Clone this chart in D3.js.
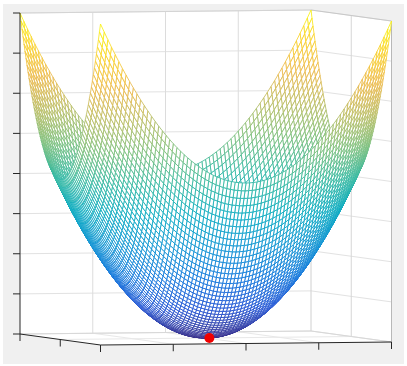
<!DOCTYPE html>
<html><head><meta charset="utf-8">
<script src="https://cdn.jsdelivr.net/npm/d3@7"></script>
<style>html,body{margin:0;padding:0;background:#fff}svg{display:block}</style>
</head><body>
<svg id="c" width="407" height="366"></svg>
<script>
const xGrid = [-2,-1.95,-1.9,-1.85,-1.8,-1.75,-1.7,-1.65,-1.6,-1.55,-1.5,-1.45,-1.4,-1.35,-1.3,-1.25,-1.2,-1.15,-1.1,-1.05,-1,-0.95,-0.9,-0.85,-0.8,-0.75,-0.7,-0.65,-0.6,-0.55,-0.5,-0.45,-0.4,-0.35,-0.3,-0.25,-0.2,-0.15,-0.1,-0.05,0,0.05,0.1,0.15,0.2,0.25,0.3,0.35,0.4,0.45,0.5,0.55,0.6,0.65,0.7,0.75,0.8,0.85,0.9,0.95,1,1.05,1.1,1.15,1.2,1.25,1.3,1.35,1.4,1.45,1.5,1.55,1.6,1.65,1.7,1.75,1.8,1.85,1.9,1.95,2];
const yGrid = [-2,-1.95,-1.9,-1.85,-1.8,-1.75,-1.7,-1.65,-1.6,-1.55,-1.5,-1.45,-1.4,-1.35,-1.3,-1.25,-1.2,-1.15,-1.1,-1.05,-1,-0.95,-0.9,-0.85,-0.8,-0.75,-0.7,-0.65,-0.6,-0.55,-0.5,-0.45,-0.4,-0.35,-0.3,-0.25,-0.2,-0.15,-0.1,-0.05,0,0.05,0.1,0.15,0.2,0.25,0.3,0.35,0.4,0.45,0.5,0.55,0.6,0.65,0.7,0.75,0.8,0.85,0.9,0.95,1,1.05,1.1,1.15,1.2,1.25,1.3,1.35,1.4,1.45,1.5,1.55,1.6,1.65,1.7,1.75,1.8,1.85,1.9,1.95,2];
const heightAlongX = [4,3.8025,3.61,3.4225,3.24,3.0625,2.89,2.7225,2.56,2.4025,2.25,2.1025,1.96,1.8225,1.69,1.5625,1.44,1.3225,1.21,1.1025,1,0.9025,0.81,0.7225,0.64,0.5625,0.49,0.4225,0.36,0.3025,0.25,0.2025,0.16,0.1225,0.09,0.0625,0.04,0.0225,0.01,0.0025,0,0.0025,0.01,0.0225,0.04,0.0625,0.09,0.1225,0.16,0.2025,0.25,0.3025,0.36,0.4225,0.49,0.5625,0.64,0.7225,0.81,0.9025,1,1.1025,1.21,1.3225,1.44,1.5625,1.69,1.8225,1.96,2.1025,2.25,2.4025,2.56,2.7225,2.89,3.0625,3.24,3.4225,3.61,3.8025,4];
const heightAlongY = [4,3.8025,3.61,3.4225,3.24,3.0625,2.89,2.7225,2.56,2.4025,2.25,2.1025,1.96,1.8225,1.69,1.5625,1.44,1.3225,1.21,1.1025,1,0.9025,0.81,0.7225,0.64,0.5625,0.49,0.4225,0.36,0.3025,0.25,0.2025,0.16,0.1225,0.09,0.0625,0.04,0.0225,0.01,0.0025,0,0.0025,0.01,0.0225,0.04,0.0625,0.09,0.1225,0.16,0.2025,0.25,0.3025,0.36,0.4225,0.49,0.5625,0.64,0.7225,0.81,0.9025,1,1.1025,1.21,1.3225,1.44,1.5625,1.69,1.8225,1.96,2.1025,2.25,2.4025,2.56,2.7225,2.89,3.0625,3.24,3.4225,3.61,3.8025,4];
const xTicks = [-2,-1,0,1,2];
const yTicks = [-2,0,2];
const zTicks = [0,1,2,3,4,5,6,7,8];
const minPoint = [0.05,0,0];
const colourStops = ["#352a87","#2053d4","#0f77db","#0d93d2","#08aac1","#33b8a1","#7abf7c","#b8bd63","#ecb94c","#fad12b","#f9fb0e"];

const svg = d3.select("#c");
const xToSx = d3.scaleLinear().domain([-2,2]).range([100.5,391.5]);
const xToSy = d3.scaleLinear().domain([-2,2]).range([345,342]);
const yToSx = d3.scaleLinear().domain([-2,2]).range([0,-80.5]);
const yToSy = d3.scaleLinear().domain([-2,2]).range([0,-11]);
const zToSy = d3.scaleLinear().domain([0,8]).range([0,-321]);
const colour = d3.scaleLinear()
  .domain(d3.range(colourStops.length).map(i => i/(colourStops.length-1)*8))
  .range(colourStops).interpolate(d3.interpolateRgb);
const px = (x,y) => xToSx(x)+yToSx(y);
const py = (x,y,z) => xToSy(x)+yToSy(y)+zToSy(z);
const pt = (x,y,z) => [px(x,y),py(x,y,z)];
const line = d3.line();
const [x0,x1] = xToSx.domain(), [y0,y1] = yToSx.domain(), [z0,z1] = zToSy.domain();

svg.append("rect").attr("x",3).attr("y",4).attr("width",401).attr("height",360).attr("fill","#f0f0f0");
svg.append("path").attr("fill","#fff")
  .attr("d",line([pt(x0,y1,z1),pt(x1,y1,z1),pt(x1,y0,z1),pt(x1,y0,z0),pt(x0,y0,z0),pt(x0,y1,z0)])+"Z");

const gridStroke = "#e2e2e2";
const grid = svg.append("g").attr("fill","none").attr("stroke",gridStroke).attr("stroke-width",1);
const seg = (g,a,b,c,w) => g.append("path").attr("d",line([a,b])).attr("stroke",c||gridStroke).attr("stroke-width",w||1);
zTicks.forEach(z => {
  seg(grid,pt(x0,y1,z),pt(x1,y1,z));
  seg(grid,pt(x1,y1,z),pt(x1,y0,z));
});
xTicks.slice(1,-1).forEach(x => {
  seg(grid,pt(x,y1,z0),pt(x,y1,z1),"#dcdcdc");
  seg(grid,pt(x,y0,z0),pt(x,y1,z0),"#e8e8e8");
});
yTicks.slice(1,-1).forEach(y => {
  seg(grid,pt(x1,y,z0),pt(x1,y,z1),"#d6d6d6");
  seg(grid,pt(x0,y,z0),pt(x1,y,z0),"#e8e8e8");
});
seg(grid,pt(x1,y1,z0),pt(x1,y1,z1),"#d0d0d0");
seg(grid,pt(x0,y1,z0),pt(x1,y1,z0),"#d8d8d8");
seg(grid,pt(x1,y0,z0),pt(x1,y1,z0),"#d8d8d8");
seg(grid,pt(x0,y1,z1),pt(x1,y1,z1),"#d4d4d4");
seg(grid,pt(x1,y1,z1),pt(x1,y0,z1),"#c8c8c8");
seg(grid,pt(x1,y0,z0),pt(x1,y0,z1),"#b8b8b8");

const quads = [];
xGrid.slice(0,-1).forEach((xa,i) => yGrid.slice(0,-1).forEach((ya,j) => {
  const xb = xGrid[i+1], yb = yGrid[j+1];
  const h = (a,b) => heightAlongX[a]+heightAlongY[b];
  const zs = [h(i,j),h(i+1,j),h(i+1,j+1),h(i,j+1)];
  quads.push({
    corners:[pt(xa,ya,zs[0]),pt(xb,ya,zs[1]),pt(xb,yb,zs[2]),pt(xa,yb,zs[3])],
    depth:py((xa+xb)/2,(ya+yb)/2,0),
    mean:d3.mean(zs)
  });
}));
quads.sort((a,b) => a.depth-b.depth);
svg.append("g").attr("stroke-width",0.85).attr("stroke-linejoin","round")
  .selectAll("path").data(quads).join("path")
  .attr("d",d => line(d.corners)+"Z")
  .attr("fill","#fff")
  .attr("stroke",d => colour(d.mean));

const axisColour = "#262626";
const axes = svg.append("g").attr("fill","none");
seg(axes,pt(x0,y1,z0),pt(x0,y1,z1),axisColour,1);
seg(axes,pt(x0,y1,z0),pt(x0,y0,z0),axisColour,1);
seg(axes,pt(x0,y0,z0),pt(x1,y0,z0),axisColour,1);
zTicks.forEach(z => { const p = pt(x0,y1,z); seg(axes,[p[0]-7,p[1]],p,axisColour,1); });
xTicks.forEach(x => { const p = pt(x,y0,z0); seg(axes,p,[p[0],p[1]+7],axisColour,1); });
yTicks.slice(1).forEach(y => { const p = pt(x0,y,z0); seg(axes,p,[p[0],p[1]+7],axisColour,1); });

svg.append("circle").attr("cx",px(minPoint[0],minPoint[1])).attr("cy",py(...minPoint))
  .attr("r",5).attr("fill","#f00000");
</script>
</body></html>
